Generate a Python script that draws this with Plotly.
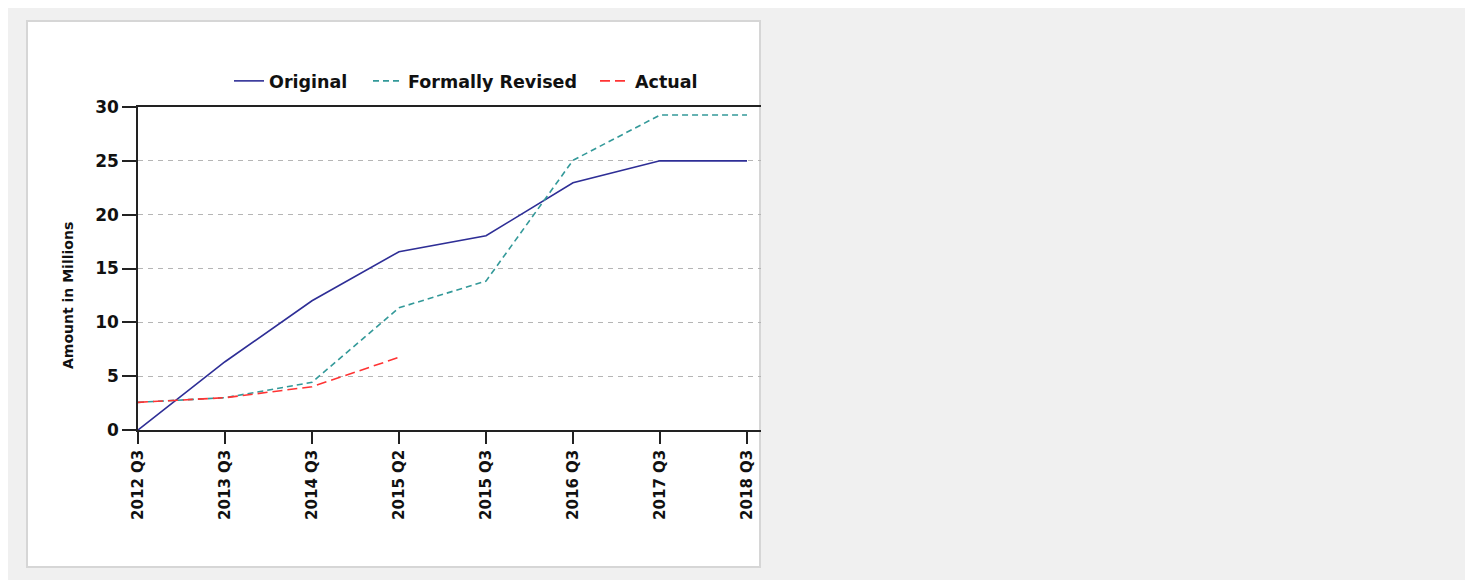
import plotly.graph_objects as go

categories = ["2012 Q3", "2013 Q3", "2014 Q3", "2015 Q2", "2015 Q3", "2016 Q3", "2017 Q3", "2018 Q3"]
original = [0, 6.34, 12.0, 16.56, 18.04, 22.96, 25.0, 25.0]
formally_revised = [2.57, 3.0, 4.43, 11.35, 13.83, 25.05, 29.25, 29.25]
actual = [2.57, 3.0, 4.02, 6.75]
y_ticks = [0, 5, 10, 15, 20, 25, 30]

OFF = 8  # page body margin offset in the browser
W, H = 1473, 580
L, R, T, B = 138 - OFF, 761 - OFF, 107 - OFF, 430 - OFF
pw, ph = R - L, B - T


def px(x):
    return (x - OFF - L) / pw


def py(y):
    return (B - (y - OFF)) / ph


FONT = "DejaVu Sans"
LEG_FONT = dict(size=17.5, family=FONT, weight="bold", color="#111")

fig = go.Figure()
fig.add_trace(go.Scatter(x=categories, y=original, mode="lines", name="Original",
                         legend="legend",
                         line=dict(color="#2e2e96", width=1.6)))
fig.add_trace(go.Scatter(x=categories, y=formally_revised, mode="lines", name="Formally Revised",
                         legend="legend2",
                         line=dict(color="#339999", width=1.6, dash="6px,4px")))
fig.add_trace(go.Scatter(x=categories[:len(actual)], y=actual, mode="lines", name="Actual",
                         legend="legend3",
                         line=dict(color="#ff3333", width=1.6, dash="10px,5px")))


def leg(xpix):
    return dict(orientation="h", x=px(xpix), xanchor="left", y=py(81), yanchor="middle",
                bgcolor="rgba(0,0,0,0)", font=LEG_FONT, borderwidth=0)


fig.update_layout(
    width=W, height=H,
    margin=dict(l=L, r=W - R, t=T, b=H - B, pad=0),
    paper_bgcolor="#f0f0f0",
    plot_bgcolor="#dadada",
    font=dict(family=FONT, color="#111111"),
    showlegend=True,
    legend=leg(229),
    legend2=leg(368),
    legend3=leg(595),
    shapes=[dict(type="rect", xref="paper", yref="paper", layer="below",
                 x0=px(27), x1=px(760), y0=py(567), y1=py(21),
                 fillcolor="white", line=dict(color="#d6d6d6", width=2))],
    annotations=[dict(text="Amount in Millions", xref="paper", yref="paper",
                      x=px(68), y=py(296), xanchor="center", yanchor="middle",
                      textangle=-90, showarrow=False,
                      font=dict(size=14, family=FONT, weight="bold", color="#111"))],
)

fig.update_xaxes(
    type="category", range=[0, (R - L) / 87.0],
    showgrid=False, showline=True, linecolor="#222", linewidth=1.5, mirror=True,
    ticks="outside", ticklen=12, tickwidth=1.5, tickcolor="#222",
    tickangle=-90, tickfont=dict(size=15, family=FONT, weight="bold", color="#111"),
    zeroline=False,
)
fig.update_yaxes(
    range=[0, 30], tickvals=y_ticks,
    showgrid=True, gridcolor="#b5b5b5", gridwidth=1, griddash="5px,5px",
    showline=True, linecolor="#222", linewidth=1.5,
    ticks="outside", ticklen=14, tickwidth=1.5, tickcolor="#222",
    tickfont=dict(size=17, family=FONT, weight="bold", color="#111"),
    zeroline=False,
)

fig.write_html("out.html")
